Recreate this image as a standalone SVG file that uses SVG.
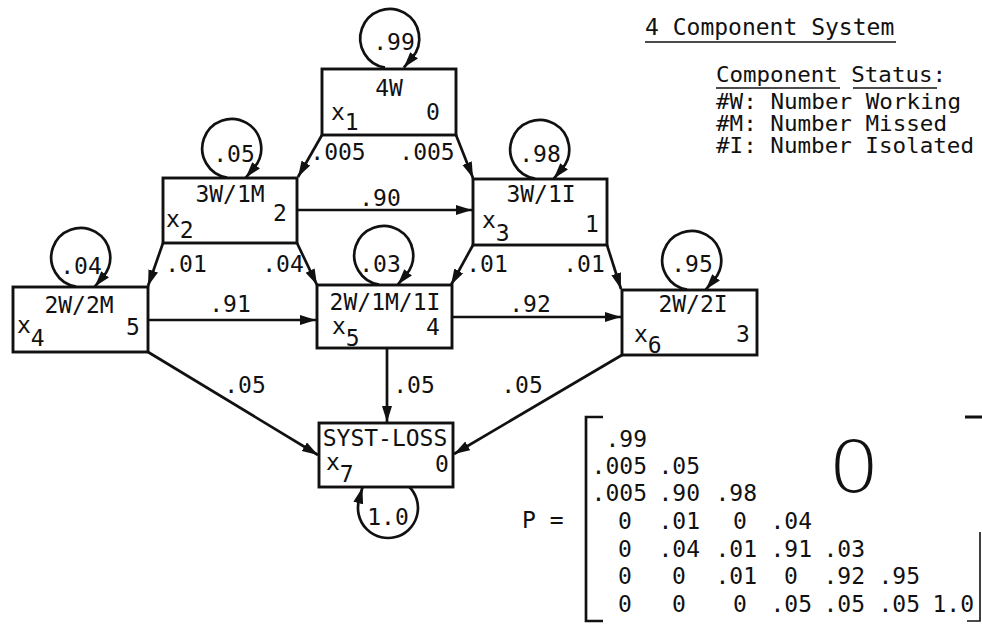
<svg xmlns="http://www.w3.org/2000/svg" width="982" height="626" viewBox="0 0 982 626">
<style>
  .bg { fill: #ffffff; }
  .box { fill: #ffffff; stroke: #111111; stroke-width: 2.9; }
  .edge { fill: none; stroke: #111111; stroke-width: 2.7; marker-end: url(#ah); }
  .line { fill: none; stroke: #111111; }
  text { font-family: "DejaVu Sans Mono", "Liberation Mono", monospace; font-size: 23px; fill: #111111; }
  .mid { text-anchor: middle; }
  .end { text-anchor: end; }
  .leg { font-size: 21px; }
</style>
<defs>
  <marker id="ah" markerUnits="userSpaceOnUse" markerWidth="18" markerHeight="11" refX="16" refY="5" orient="auto">
    <path d="M0,0 L16,5 L0,10 Z" fill="#111111"/>
  </marker>
</defs>
<rect class="bg" x="0" y="0" width="982" height="626"/>

<g id="node-x1">
  <rect class="box" x="322" y="69" width="134" height="66"/>
  <text class="mid" x="389" y="96">4W</text>
  <text x="331" y="120">x<tspan dy="10">1</tspan></text>
  <text x="426" y="120">0</text>
</g>
<g id="node-x2">
  <rect class="box" x="163" y="178" width="134" height="65"/>
  <text class="mid" x="230" y="202">3W/1M</text>
  <text x="166" y="227">x<tspan dy="11">2</tspan></text>
  <text x="273" y="221">2</text>
</g>
<g id="node-x3">
  <rect class="box" x="473" y="179" width="134" height="66"/>
  <text class="mid" x="541" y="202">3W/1I</text>
  <text x="482" y="228">x<tspan dy="13">3</tspan></text>
  <text x="585" y="232">1</text>
</g>
<g id="node-x4">
  <rect class="box" x="13" y="287" width="135" height="65"/>
  <text class="mid" x="79" y="313">2W/2M</text>
  <text x="17" y="333">x<tspan dy="13">4</tspan></text>
  <text x="126" y="335">5</text>
</g>
<g id="node-x5">
  <rect class="box" x="317" y="285" width="135" height="63"/>
  <text class="mid" x="385" y="310">2W/1M/1I</text>
  <text x="332" y="334">x<tspan dy="12">5</tspan></text>
  <text x="426" y="335">4</text>
</g>
<g id="node-x6">
  <rect class="box" x="622" y="290" width="135" height="65"/>
  <text class="mid" x="693" y="312">2W/2I</text>
  <text x="634" y="342">x<tspan dy="11">6</tspan></text>
  <text x="736" y="342">3</text>
</g>
<g id="node-x7">
  <rect class="box" x="319" y="423" width="134" height="64"/>
  <text class="mid" x="385" y="446">SYST-LOSS</text>
  <text x="326" y="470">x<tspan dy="12">7</tspan></text>
  <text x="435" y="472">0</text>
</g>

<g id="connectors">
  <path class="edge" d="M322,135 L298,177"/>
  <path class="edge" d="M456,135 L473,178"/>
  <path class="edge" d="M297,210 L472,210"/>
  <path class="edge" d="M163,243 L148,286"/>
  <path class="edge" d="M297,243 L317,285"/>
  <path class="edge" d="M473,245 L451,285"/>
  <path class="edge" d="M607,245 L621,289"/>
  <path class="edge" d="M148,320 L316,320"/>
  <path class="edge" d="M452,317 L621,317"/>
  <path class="edge" d="M148,352 L318,455"/>
  <path class="edge" d="M387,348 L387,422"/>
  <path class="edge" d="M622,355 L454,454"/>
  <!-- self loops -->
  <path class="edge" d="M385,67.6 A29.5,29.5 0 1 1 412.2,57.6 L403.8,67.6"/>
  <path class="edge" d="M227,177.6 A29.5,29.5 0 1 1 254.2,167.6 L245.8,177.6"/>
  <path class="edge" d="M535,178.6 A29.5,29.5 0 1 1 562.2,168.6 L553.8,178.6"/>
  <path class="edge" d="M76,286.6 A29.5,29.5 0 1 1 103.2,276.6 L94.8,286.6"/>
  <path class="edge" d="M379,284.6 A29.5,29.5 0 1 1 406.2,274.6 L397.8,284.6"/>
  <path class="edge" d="M687,289.6 A29.5,29.5 0 1 1 714.2,279.6 L705.8,289.6"/>
  <path class="edge" d="M409.4,487 A30,30 0 1 1 359,500.2 L362.4,487.6"/>
  <g id="edge-labels">
    <text class="mid" x="338" y="160">.005</text>
    <text class="mid" x="427" y="160">.005</text>
    <text class="mid" x="380" y="206">.90</text>
    <text class="mid" x="186" y="272">.01</text>
    <text class="mid" x="283" y="272">.04</text>
    <text class="mid" x="487" y="272">.01</text>
    <text class="mid" x="584" y="272">.01</text>
    <text class="mid" x="230" y="312">.91</text>
    <text class="mid" x="530" y="312">.92</text>
    <text class="mid" x="245" y="393">.05</text>
    <text class="mid" x="414" y="393">.05</text>
    <text class="mid" x="522" y="393">.05</text>
    <text class="mid" x="394" y="50">.99</text>
    <text class="mid" x="234" y="162">.05</text>
    <text class="mid" x="540" y="162">.98</text>
    <text class="mid" x="81" y="274">.04</text>
    <text class="mid" x="380" y="272">.03</text>
    <text class="mid" x="692" y="272">.95</text>
    <text class="mid" x="388" y="525">1.0</text>
  </g>
</g>

<g id="legend">
  <text x="645" y="35">4 Component System</text>
  <line class="line" x1="645" y1="42" x2="896" y2="42" stroke-width="1.6"/>
  <text class="leg" x="716" y="82" textLength="230" lengthAdjust="spacingAndGlyphs">Component Status:</text>
  <line class="line" x1="716" y1="88" x2="840" y2="88" stroke-width="1.6"/>
  <line class="line" x1="853" y1="88" x2="937" y2="88" stroke-width="1.6"/>
  <text class="leg" x="716" y="109" textLength="245" lengthAdjust="spacingAndGlyphs">#W: Number Working</text>
  <text class="leg" x="716" y="131" textLength="231" lengthAdjust="spacingAndGlyphs">#M: Number Missed</text>
  <text class="leg" x="716" y="153" textLength="258" lengthAdjust="spacingAndGlyphs">#I: Number Isolated</text>
</g>

<g id="matrix">
  <text x="522" y="528">P =</text>
  <path class="line" d="M603,417 L586,417 L586,621 L603,621" stroke-width="2.7"/>
  <path class="line" d="M965,417 L982,417" stroke-width="3"/>
  <path class="line" d="M980,532 L980,621 L967,621" stroke-width="1.6"/>
  <text transform="translate(854 492) scale(1.15 1)" text-anchor="middle" style="font-family:'DejaVu Sans',sans-serif;font-weight:200;font-size:71px">0</text>
  <text class="end" x="647" y="447">.99</text>
  <text class="end" x="647" y="474">.005</text>
  <text class="end" x="700" y="474">.05</text>
  <text class="end" x="647" y="501">.005</text>
  <text class="end" x="700" y="501">.90</text>
  <text class="end" x="757" y="501">.98</text>
  <text class="mid" x="625" y="529">0</text>
  <text class="end" x="700" y="529">.01</text>
  <text class="mid" x="740" y="529">0</text>
  <text class="end" x="812" y="529">.04</text>
  <text class="mid" x="625" y="557">0</text>
  <text class="end" x="700" y="557">.04</text>
  <text class="end" x="757" y="557">.01</text>
  <text class="end" x="812" y="557">.91</text>
  <text class="end" x="865" y="557">.03</text>
  <text class="mid" x="625" y="584">0</text>
  <text class="mid" x="679" y="584">0</text>
  <text class="end" x="757" y="584">.01</text>
  <text class="mid" x="791" y="584">0</text>
  <text class="end" x="865" y="584">.92</text>
  <text class="end" x="920" y="584">.95</text>
  <text class="mid" x="625" y="612">0</text>
  <text class="mid" x="679" y="612">0</text>
  <text class="mid" x="740" y="612">0</text>
  <text class="end" x="812" y="612">.05</text>
  <text class="end" x="865" y="612">.05</text>
  <text class="end" x="920" y="612">.05</text>
  <text class="end" x="974" y="612">1.0</text>
</g>
</svg>
